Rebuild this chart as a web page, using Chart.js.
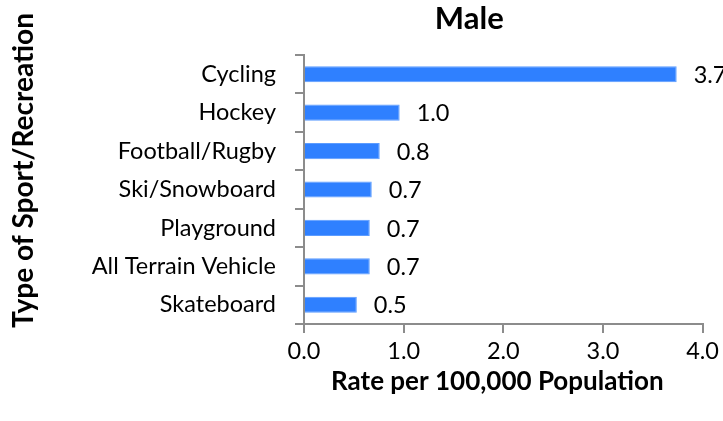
<!DOCTYPE html>
<html>
<head>
<meta charset="utf-8">
<script src="https://cdn.jsdelivr.net/npm/chart.js@4"></script>
<style>
  html, body { margin: 0; padding: 0; background: #fff; }
  #wrap { width: 723px; height: 421px; }
</style>
</head>
<body>
<div id="wrap"><canvas id="bar"></canvas></div>
<script>
var sports = [
  'Cycling',
  'Hockey',
  'Football/Rugby',
  'Ski/Snowboard',
  'Playground',
  'All Terrain Vehicle',
  'Skateboard'
];
var rates = [3.74, 0.96, 0.76, 0.68, 0.66, 0.66, 0.53];
var xTicks = [0, 1, 2, 3, 4];

var chartTitle = 'Male';
var xTitle = 'Rate per 100,000 Population';
var yTitle = 'Type of Sport/Recreation';

var FONT = 'Lato, "Liberation Sans", sans-serif';
var AXIS_GREY = '#8c8c8c';

// value labels to the right of each bar
var valueLabels = {
  id: 'valueLabels',
  afterDatasetsDraw: function(chart) {
    var ctx = chart.ctx;
    var meta = chart.getDatasetMeta(0);
    ctx.save();
    ctx.font = '23.5px ' + FONT;
    ctx.fillStyle = '#000';
    ctx.textAlign = 'left';
    ctx.textBaseline = 'middle';
    meta.data.forEach(function(bar, i) {
      ctx.fillText(rates[i].toFixed(1), bar.x + 17, bar.y + 1);
    });
    ctx.restore();
  }
};

// titles drawn by hand, the original has them a little off-centre
var titles = {
  id: 'titles',
  afterDraw: function(chart) {
    var ctx = chart.ctx;
    var a = chart.chartArea;
    var midX = (a.left + a.right) / 2;
    ctx.save();
    ctx.fillStyle = '#000';
    ctx.textAlign = 'center';
    ctx.textBaseline = 'middle';
    ctx.font = 'bold 31px ' + FONT;
    ctx.fillText(chartTitle, midX - 34, 19);

    ctx.font = 'bold 26px ' + FONT;
    ctx.fillText(xTitle, midX - 6, a.bottom + 58);

    ctx.font = 'bold 28px ' + FONT;
    ctx.translate(24, (a.top + a.bottom) / 2 - 19);
    ctx.rotate(-Math.PI / 2);
    ctx.fillText(yTitle, 0, 0);
    ctx.restore();
  }
};

new Chart(document.getElementById('bar').getContext('2d'), {
  type: 'bar',
  data: {
    labels: sports,
    datasets: [{
      data: rates,
      backgroundColor: '#2f80ff',
      borderColor: '#5c9cff',
      borderWidth: 1,
      barPercentage: 0.42,
      categoryPercentage: 1.0
    }]
  },
  options: {
    indexAxis: 'y',
    responsive: true,
    maintainAspectRatio: false,
    animation: false,
    layout: { padding: { top: 55, right: 0, bottom: 0, left: 0 } },
    plugins: {
      legend: { display: false },
      tooltip: { enabled: false },
      title: { display: false }
    },
    scales: {
      x: {
        min: 0,
        max: 4,
        afterBuildTicks: function(scale) {
          scale.ticks = xTicks.map(function(v) { return { value: v }; });
        },
        afterFit: function(scale) { scale.height = 97; },
        ticks: {
          color: '#000',
          font: { family: FONT, size: 23.5 },
          padding: 4,
          callback: function(v) { return Number(v).toFixed(1); }
        },
        grid: {
          drawOnChartArea: false,
          drawTicks: true,
          tickLength: 9,
          color: AXIS_GREY,
          lineWidth: 2
        },
        border: { color: AXIS_GREY, width: 2 }
      },
      y: {
        afterFit: function(scale) { scale.width = 304; },
        ticks: {
          color: '#000',
          font: { family: FONT, size: 23.5 },
          padding: 19
        },
        grid: {
          offset: true,
          drawOnChartArea: false,
          drawTicks: true,
          tickLength: 9,
          color: AXIS_GREY,
          lineWidth: 2
        },
        border: { color: AXIS_GREY, width: 2 }
      }
    }
  },
  plugins: [valueLabels, titles]
});
</script>
</body>
</html>
